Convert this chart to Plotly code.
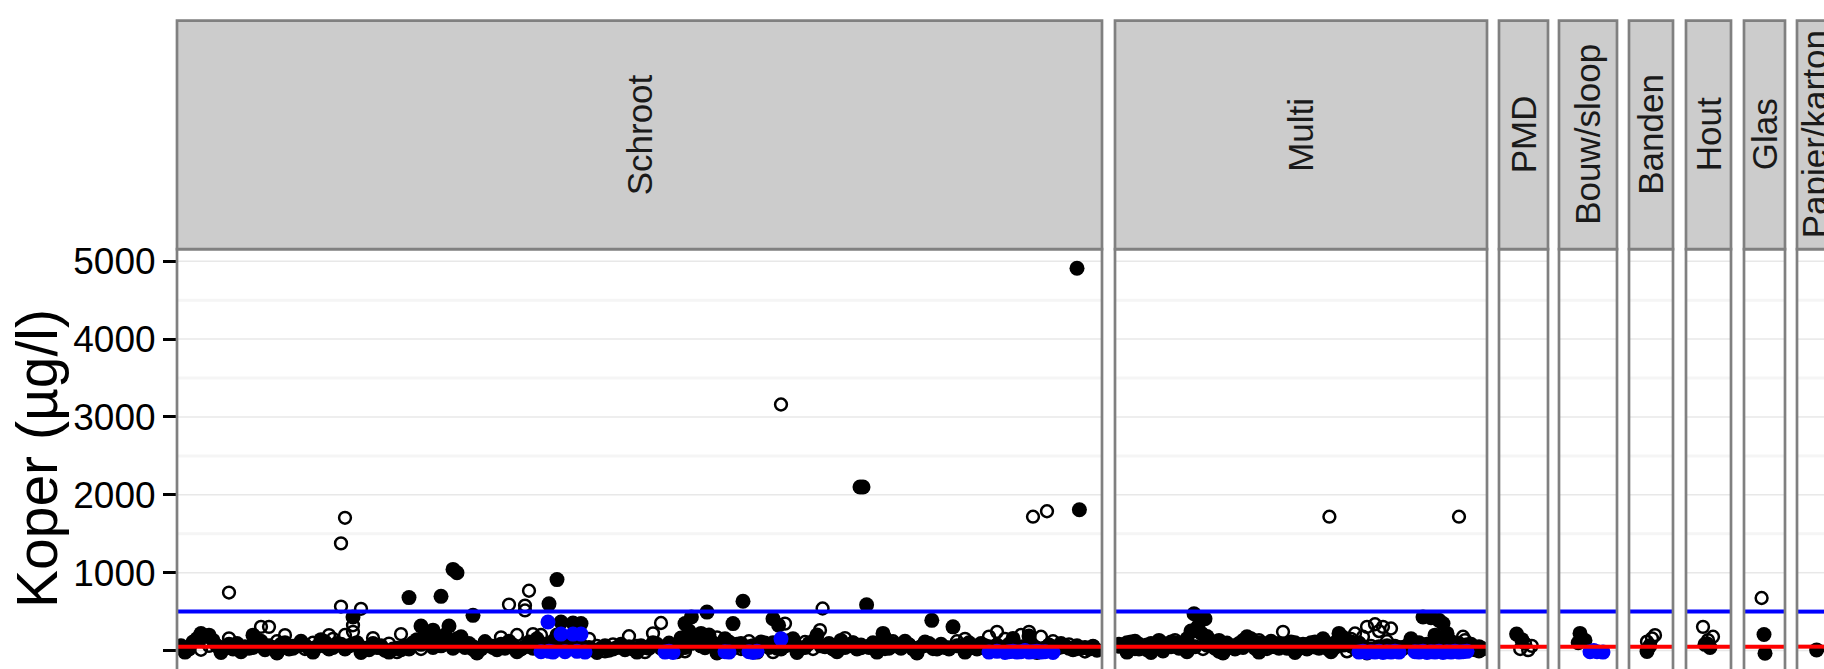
import plotly.graph_objects as go

W, H = 1824, 669

# ---------------- data ----------------
categories = ["Schroot", "Multi", "PMD", "Bouw/sloop", "Banden", "Hout", "Glas", "Papier/karton"]
# number of sample positions (x extent) per category
x_extent = [231.25, 93.0, 12.25, 14.5, 11.0, 11.25, 10.25, 8.75]

norm_blue = 500
norm_red = 50
y_ticks = [0, 1000, 2000, 3000, 4000, 5000]

# (sample position, Koper µg/l)
schroot_filled = [
    (6, 219), (8, 198), (19, 198), (44, 430), (58, 680), (61, 316), (64, 262), (66, 696), (68, 316), (69, 1042),
    (70, 1000), (71, 177), (74, 452), (93, 600), (95, 911), (96, 367), (99, 354), (101, 346), (127, 346), (128.6, 430),
    (131, 220), (132.5, 494), (139, 346), (141.5, 633), (149, 409), (150.4, 325), (170.75, 2100), (171.5, 2100),
    (172.4, 587), (176.5, 220), (188.7, 388), (194, 304), (225, 4910), (225.6, 1808), (213, 186), (209, 156),
    (1, 60), (2, -20), (3, 20), (4, 110), (5, 150), (7, 180), (9, 130), (10, 60), (11, -25), (12, 40), (14, 20),
    (15, 90), (16, -15), (17, 50), (18, 30), (20, 70), (22, 10), (24, 40), (25, -30), (26, 80), (28, 20), (30, 60),
    (31, 120), (33, 30), (34, -20), (35, 50), (36, 140), (38, 20), (40, 90), (43, 60), (45, 100), (46, -25), (47, 30),
    (48, 10), (50, 40), (52, 5), (53, -20), (54, 20), (56, 10), (57, 60), (59, 100), (60, 140), (62, 180), (63, 90),
    (65, 120), (67, 200), (70, 150), (72, 40), (73, 90), (75, -30), (76, 20), (78, 60), (80, 10), (82, 30), (84, 70),
    (85, -15), (86, 20), (88, 110), (90, 150), (92, 60), (94, 120), (95, 200), (97, 80), (98, 40), (100, 100),
    (102, 20), (104, 10), (105, -25), (106, 30), (108, 5), (110, 40), (112, 10), (114, 20), (115, -20), (116, 60),
    (118, 30), (120, 80), (122, 20), (124, 50), (125, -15), (126, 160), (128, 250), (130, 120), (131, 60), (133, 200),
    (134, 100), (135, -30), (136, 60), (137, 150), (140, 80), (142, 30), (144, 60), (145, -20), (146, 110), (148, 40),
    (151, 20), (152, 60), (154, 150), (155, -25), (156, 30), (158, 90), (160, 200), (162, 50), (164, 20), (165, -15),
    (166, 130), (168, 60), (170, 20), (173, 40), (174, 100), (175, -20), (177, 160), (178, 30), (180, 60), (182, 120),
    (184, 20), (185, -30), (186, 50), (188, 90), (190, 20), (192, 40), (196, 60), (197, -20), (198, 100), (200, 20),
    (202, 60), (204, 10), (206, 40), (208, 80), (210, 30), (212, 20), (214, 50), (215, -25), (216, 10), (218, 70),
    (220, 30), (222, 60), (224, 10), (227, 40), (228, 20), (230, 5),
    (13, 80), (19, 40), (21, 120), (23, 60), (27, 100), (29, 30), (32, 70), (37, 110), (39, 40), (41, 80), (42, 20),
    (49, 90), (51, 60), (55, 30), (58, 20), (61, 80), (64, 40), (66, 60), (68, 110), (69, 30), (71, 70), (74, 50),
    (77, 100), (79, 40), (81, 80), (83, 120), (87, 50), (89, 30), (91, 90), (93, 20), (96, 50), (99, 30), (101, 70),
    (103, 40), (107, 60), (109, 20), (111, 80), (113, 50), (117, 40), (119, 100), (121, 30), (123, 70), (127, 40),
    (129, 100), (132, 50), (138, 110), (139, 30), (141, 90), (143, 50), (147, 70), (149, 100), (150, 30), (153, 80),
    (157, 40), (159, 120), (161, 60), (163, 90), (167, 40), (169, 100), (171, 70), (176, 50), (179, 90), (181, 30),
    (183, 70), (187, 110), (189, 40), (191, 80), (193, 20), (195, 60), (199, 40), (201, 90), (203, 50), (205, 70),
    (207, 20), (209, 60), (211, 40), (213, 80), (217, 30), (219, 50), (221, 90), (223, 30), (225, 60), (226, 30),
    (229, 50),
]
schroot_open = [
    (13, 745), (41, 565), (41, 1376), (42, 1705), (46, 536), (44, 325), (44, 240), (42, 200), (21, 304), (23, 304),
    (27, 198), (38, 198), (13, 156), (56, 211), (83, 590), (88, 768), (87, 578), (87, 515), (85, 200), (89, 211),
    (91, 200), (121, 354), (119, 220), (113, 184), (151, 3160), (161.4, 540), (160.75, 262), (152, 346), (214, 1719),
    (217.5, 1789), (227, -13), (213, 240), (216, 177),
    (2, 30), (6, 10), (8, 60), (11, -10), (16, 40), (19, 90), (25, 120), (29, 60), (32, 20), (34, 100), (37, 50),
    (39, 150), (49, 160), (51, 30), (53, 90), (55, -20), (58, 60), (61, 20), (64, 100), (66, 150), (69, 40), (71, 80),
    (74, 10), (77, 120), (79, 60), (81, 170), (93, 60), (96, 20), (99, 100), (101, 30), (103, 150), (105, 60),
    (107, -10), (109, 80), (111, 40), (115, 60), (117, -20), (123, 100), (125, 40), (127, -10), (129, 90), (132, 30),
    (135, 170), (138, 60), (141, 20), (143, 120), (145, 50), (147, 100), (149, -20), (153, 130), (155, 60), (157, 110),
    (159, 20), (163, 80), (165, 40), (167, 160), (169, 100), (171, 30), (173, 60), (175, 90), (177, 20), (179, 120),
    (181, 40), (183, 80), (185, 30), (187, 60), (189, 20), (191, 70), (193, 40), (195, 120), (197, 150), (199, 60),
    (201, 40), (203, 180), (205, 240), (207, 150), (209, 100), (211, 200), (219, 120), (221, 40), (223, 80), (225, 20),
    (229, 60),
]
schroot_blue = [
    (91, -15), (92.75, 367), (93, -10), (94, -20), (96, 211), (97, -15), (99, 211), (100, -10), (101, 211), (102, -20),
    (122, -20), (123, -10), (124, -25), (137, -15), (138, -20), (143, -15), (144, -25), (145, -10), (151, 150),
    (203, -20), (205, -10), (207, -25), (208, -15), (209, -10), (210, -20), (211, -15), (212, 0), (213, -20),
    (214, -15), (215, -10), (216, -20), (217, -15), (219, -25),
]

multi_filled = [
    (2, 60), (3, 100), (3, -20), (4, 30), (5, 120), (6, 80), (7, 40), (8, 10), (9, 90), (9, -25), (10, 60), (11, 130),
    (12, 20), (13, 70), (14, 50), (15, 100), (16, 30), (17, 60), (18, 150), (18, -15), (19, 250), (19.75, 473),
    (20.7, 304), (22.5, 409), (21.6, 220), (23, 180), (24, 120), (25, 60), (26, 100), (27, 30), (27, -30), (28, 80),
    (29, 60), (30, 20), (31, 90), (32, 40), (33, 177), (34, 150), (35, 60), (36, 100), (36, -20), (37, 30), (38, 80),
    (39, 120), (40, 50), (41, 90), (43, 30), (44, 60), (45, 100), (45, -25), (46, 40), (47, 80), (48, 20), (49, 60),
    (50, 110), (51, 70), (52, 150), (53, 30), (54, 60), (54, -15), (55, 100), (56, 220), (57, 170), (58, 130), (59, 60),
    (60, 30), (61, 90), (62, 50), (63, -30), (64, 20), (68, 60), (70, 30), (72, 40), (73, 60), (74, 150), (76, 100),
    (77, 430), (79, 422), (80, 198), (81, 388), (82, 346), (83, 220), (84, 120), (85, 60), (86, 30), (88, 40), (89, 20),
    (90, 10), (91, 30),
    (1, 80), (4, 110), (6, 20), (8, 70), (10, 30), (12, 90), (14, 110), (16, 60), (20, 50), (23, 70), (25, 30),
    (26, 130), (28, 40), (31, 60), (33, 100), (35, 30), (37, 90), (39, 50), (41, 30), (42, 80), (44, 110), (47, 40),
    (49, 100), (51, 30), (53, 90), (55, 40), (57, 70), (59, 110), (60, 80), (62, 40), (66, 50), (71, 40), (75, 70),
    (78, 80), (80, 40), (82, 90), (84, 30), (86, 90), (87, 60), (89, 80), (91, 50), (92, 20),
]
multi_open = [
    (1, 50), (5, 20), (10, 40), (12, -10), (15, 135), (17, 80), (20, 100), (22, 20), (24, 60), (26, -15), (28, 100),
    (30, 40), (32, 135), (35, 60), (36, 135), (38, 20), (40, 90), (42, 240), (44, 60), (46, 20), (48, 80), (50, 40),
    (52, 100), (53.6, 1719), (55, 60), (58, -10), (59, 150), (60, 219), (61, 100), (62, 177), (63, 304), (64, 60),
    (65, 338), (66, 250), (67, 304), (68, 120), (69, 283), (70, 60), (72, 20), (75, 40), (79, -10), (86, 1719),
    (87, 177), (87.5, 135), (88, 80), (89, 40), (90, 20), (91, -10),
]
multi_blue = [
    (61, -20), (62, -10), (63, -25), (64, -15), (65, -20), (66, -10), (67, -25), (68, -15), (69, -20), (70, -10),
    (71, -20), (75, -15), (76, -20), (77, -10), (78, -25), (79, -15), (80, -20), (81, -10), (82, -25), (83, -15),
    (84, -20), (85, -10), (86, -20), (87, -15), (88, -10),
]

pmd_filled = [(4.4, 211), (5.7, 140)]
pmd_open = [(6.5, 90), (8.2, 60), (5.3, 20), (7.3, 5)]
pmd_blue = []

bouw_filled = [(5.25, 220), (6.5, 130), (4.8, 100)]
bouw_open = []
bouw_blue = [(7.75, -15), (8.7, 0), (9.5, -15), (11.0, -20)]

banden_filled = [(4.5, -13), (5.2, 60)]
banden_open = [(6.5, 198), (5.75, 156), (4.5, 114)]
banden_blue = []

hout_filled = [(4.75, 80), (6.0, 40)]
hout_open = [(4.25, 304), (6.75, 177), (5.5, 135), (5.25, 93)]
hout_blue = []

glas_filled = [(5.0, 207), (5.25, -34)]
glas_open = [(4.4, 675)]
glas_blue = []

papier_filled = [(4.9, 8)]
papier_open = []
papier_blue = []

filled = [schroot_filled, multi_filled, pmd_filled, bouw_filled, banden_filled, hout_filled, glas_filled, papier_filled]
opened = [schroot_open, multi_open, pmd_open, bouw_open, banden_open, hout_open, glas_open, papier_open]
blue = [schroot_blue, multi_blue, pmd_blue, bouw_blue, banden_blue, hout_blue, glas_blue, papier_blue]

# ---------------- layout (pixels) ----------------
panel_edges = [(177, 1102), (1115, 1487), (1499, 1548), (1559, 1617), (1629, 1673), (1686, 1731), (1744, 1785), (1797, 1832)]
strip_top, strip_bottom, panel_bottom = 12.7, 244, 669
y_range = [-237, 5156]

FONT = "Liberation Sans, Arial, Helvetica, sans-serif"
BORDER = "#808080"


def px(x):
    return x / W


def py(y):
    return 1 - y / H


def split(pairs):
    return [p[0] for p in pairs], [p[1] for p in pairs]


fig = go.Figure()
layout = dict(
    width=W, height=H, margin=dict(l=0, r=0, t=0, b=0),
    paper_bgcolor="white", plot_bgcolor="white", showlegend=False,
    font=dict(family=FONT, color="black"),
)
shapes = []
annotations = []

for i, cat in enumerate(categories):
    l, r = panel_edges[i]
    r_vis = min(r, W)
    ax = "x" if i == 0 else f"x{i+1}"
    axkey = "xaxis" if i == 0 else f"xaxis{i+1}"
    xr = [0, x_extent[i] * (r_vis - l) / (r - l)]
    layout[axkey] = dict(domain=[px(l), px(r_vis)], range=xr, anchor="y", showticklabels=False, showgrid=False,
                         zeroline=False, showline=False, ticks="", fixedrange=True)
    for v in range(500, 5001, 1000):
        shapes.append(dict(type="line", xref=f"{ax} domain", yref="y", x0=0, x1=1, y0=v, y1=v, layer="below",
                           line=dict(color="#f5f5f5", width=3)))
    for v in y_ticks:
        shapes.append(dict(type="line", xref=f"{ax} domain", yref="y", x0=0, x1=1, y0=v, y1=v, layer="below",
                           line=dict(color="#e8e8e8", width=1.5)))
    fx, fy = split(filled[i])
    ox, oy = split(opened[i])
    bx, by = split(blue[i])
    fig.add_trace(go.Scatter(x=fx, y=fy, mode="markers", xaxis=ax, yaxis="y", cliponaxis=True,
                             marker=dict(symbol="circle", size=15, color="black", line=dict(width=0)),
                             hoverinfo="skip"))
    fig.add_trace(go.Scatter(x=ox, y=oy, mode="markers", xaxis=ax, yaxis="y", cliponaxis=True,
                             marker=dict(symbol="circle-open", size=11.8, color="black", line=dict(width=2.5)),
                             hoverinfo="skip"))
    fig.add_trace(go.Scatter(x=bx, y=by, mode="markers", xaxis=ax, yaxis="y", cliponaxis=True,
                             marker=dict(symbol="circle", size=15, color="#0000ff", line=dict(width=0)),
                             hoverinfo="skip"))
    shapes.append(dict(type="line", xref=f"{ax} domain", yref="y", x0=0, x1=1, y0=norm_blue, y1=norm_blue, layer="above",
                       line=dict(color="#0000ff", width=4)))
    shapes.append(dict(type="line", xref=f"{ax} domain", yref="y", x0=0, x1=1, y0=norm_red, y1=norm_red, layer="above",
                       line=dict(color="#ff0000", width=4)))
    shapes.append(dict(type="rect", xref="paper", yref="paper", x0=px(l), x1=px(r), y0=py(panel_bottom + 2),
                       y1=py(strip_bottom), line=dict(color=BORDER, width=2.7), fillcolor="rgba(0,0,0,0)", layer="above"))
    shapes.append(dict(type="rect", xref="paper", yref="paper", x0=px(l), x1=px(r), y0=py(strip_bottom),
                       y1=py(strip_top), line=dict(color=BORDER, width=2.7), fillcolor="#cccccc", layer="above"))
    annotations.append(dict(text=cat, xref="paper", yref="paper", x=px((l + r) / 2), y=py((strip_top + strip_bottom) / 2),
                            xanchor="center", yanchor="middle", textangle=-90, showarrow=False,
                            font=dict(size=35, color="#1a1a1a", family=FONT)))

annotations.append(dict(text="Koper (µg/l)", xref="paper", yref="paper", x=px(37), y=py((strip_bottom + panel_bottom) / 2),
                        xanchor="center", yanchor="middle", textangle=-90, showarrow=False,
                        font=dict(size=57, color="black", family=FONT)))

layout["yaxis"] = dict(domain=[0, py(strip_bottom)], range=y_range, anchor="x", side="left", tickvals=y_ticks,
                       ticktext=[str(v) for v in y_ticks], ticks="outside", ticklen=13, tickwidth=3, tickcolor="black",
                       tickfont=dict(size=37, color="black", family=FONT), showgrid=False, zeroline=False,
                       showline=False, fixedrange=True)
layout["shapes"] = shapes
layout["annotations"] = annotations
fig.update_layout(**layout)

fig.write_html("out.html", config={"displayModeBar": False},
               post_script="document.body.style.margin='0';document.body.style.overflow='hidden';")
